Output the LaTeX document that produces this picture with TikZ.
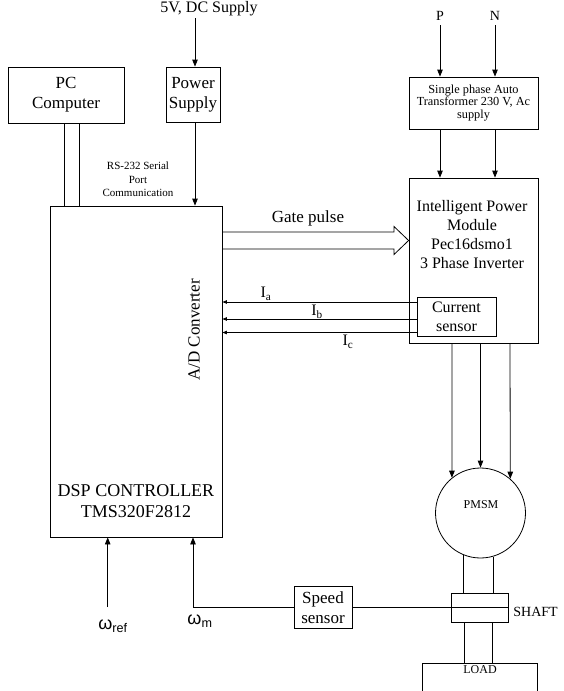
\documentclass[tikz,border=0pt]{standalone}
\usepackage{fontspec}
\setmainfont{Liberation Serif}
\newfontfamily\arialf{Liberation Sans}
\usetikzlibrary{arrows.meta}
\begin{document}
\begin{tikzpicture}[x=1pt,y=-1pt, line width=0.8pt,
  box/.style={draw, inner sep=0pt, align=center},
  lbl/.style={inner sep=0pt, align=center},
  arr/.style={-{Triangle[length=7pt,width=5.5pt]}},
  sarr/.style={-{Triangle[length=4.5pt,width=3.5pt]}},
  fA/.style={font=\fontsize{17}{20}\selectfont},
  fB/.style={font=\fontsize{16}{19}\selectfont},
]
\useasboundingbox (0,0) rectangle (563,691);

% top supply
\node[lbl, font=\fontsize{16}{18}\selectfont, anchor=base] (sup5) at (209,12) {5V, DC Supply};
\coordinate (top5) at (195,18);

% left boxes
\node[box, fA, minimum width=116pt, minimum height=56pt] (pc) at (66,95) {PC\\Computer};
\node[box, fA, minimum width=54pt, minimum height=55pt] (ps) at (193,94.5) {Power\\Supply};
\node[box, minimum width=172pt, minimum height=331pt] (dsp) at (136,371.5) {};

\draw[arr] (top5) -- (top5 |- ps.north);
\draw[arr] (ps.south -| top5) -- (dsp.north -| top5);

\coordinate (pcl1) at (64.5,123);
\coordinate (pcl2) at (79,123);
\draw (pcl1) -- (pcl1 |- dsp.north);
\draw (pcl2) -- (pcl2 |- dsp.north);

\node[lbl, font=\fontsize{11}{13.5}\selectfont] (rs) at (138,179.5) {RS-232 Serial\\Port\\Communication};

\node[lbl, fA, rotate=90] (adc) at (194,330) {A/D Converter};
\node[lbl, font=\fontsize{18}{21}\selectfont] (dspt) at (136,501) {DSP CONTROLLER\\TMS320F2812};

% right top
\node[lbl, font=\fontsize{14}{16}\selectfont] (plab) at (440,16) {P};
\node[lbl, font=\fontsize{14}{16}\selectfont] (nlab) at (495,16) {N};
\node[box, font=\fontsize{12.3}{12.2}\selectfont, minimum width=129pt, minimum height=52pt] (tr) at (473.5,103) {Single phase Auto\\Transformer 230 V, Ac\\supply};
\coordinate (pa) at (440,25);
\coordinate (na) at (495,25);
\draw[arr] (pa) -- (pa |- tr.north);
\draw[arr] (na) -- (na |- tr.north);

\node[box, minimum width=129pt, minimum height=165pt] (ipm) at (473.5,260.5) {};
\node[lbl, fB] (ipmt) at (472,235) {Intelligent Power\\Module\\Pec16dsmo1\\3 Phase Inverter};
\draw[arr] (tr.south -| pa) -- (ipm.north -| pa);
\draw[arr] (tr.south -| na) -- (ipm.north -| na);

% gate pulse
\coordinate (g1) at (222,232);
\coordinate (g2) at (222,249);
\draw (g1) -- (394,232) -- (394,226.5) -- (ipm.west |- 0,240.5) -- (394,254.5) -- (394,249) -- (g2);
\node[lbl, fA] (gp) at (308,218) {Gate pulse};

% current sensor
\node[box, fB, minimum width=79pt, minimum height=39pt, fill=white] (cs) at (456.5,316.5) {Current\\sensor};
\coordinate (ia) at (417,302);
\coordinate (ib) at (417,319);
\coordinate (ic) at (417,332.5);
\draw[sarr] (ia) -- (ia -| dsp.east);
\draw[sarr] (ib) -- (ib -| dsp.east);
\draw[sarr] (ic) -- (ic -| dsp.east);
\node[lbl, fB] (ial) at (266,294) {I\textsubscript{a}};
\node[lbl, fB] (ibl) at (317,312) {I\textsubscript{b}};
\node[lbl, fB] (icl) at (348,342) {I\textsubscript{c}};

% motor
\node[draw, circle, minimum size=90pt, inner sep=0pt] (m) at (480.5,513) {};
\node[lbl, font=\fontsize{12}{14}\selectfont] (pmsm) at (481,505) {PMSM};
\coordinate (m1) at (452,343);
\coordinate (m2) at (480.5,343);
\coordinate (m3) at (510,343);
\draw[arr] (m1) -- (m.129.3);
\draw[arr] (m2) -- (m.north);
\draw[arr] (m3) -- (m.49);

% shaft
\node[box, minimum width=57pt, minimum height=29pt] (sh) at (479.5,607.5) {};
\draw (m.248.5) -- (m.248.5 |- sh.north);
\draw (m.286.1) -- (m.286.1 |- sh.north);
\node[lbl, font=\fontsize{14}{16}\selectfont, anchor=west] (shl) at (513,612) {SHAFT};

\node[box, minimum width=115pt, minimum height=54pt] (load) at (480.2,690) {};
\node[lbl, font=\fontsize{12}{14}\selectfont] (loadl) at (480,670) {LOAD};
\coordinate (l1) at (464,622);
\coordinate (l2) at (492,622);
\draw (l1) -- (l1 |- load.north);
\draw (l2) -- (l2 |- load.north);

% speed sensor
\node[box, fA, minimum width=58pt, minimum height=42pt] (ss) at (323,607.5) {Speed\\sensor};
\draw (ss.east) -- (sh.east);
\coordinate (wm) at (193,607.5);
\draw[arr] (ss.west) -- (wm) -- (wm |- dsp.south);
\coordinate (wr) at (107.7,607);
\draw[arr] (wr) -- (wr |- dsp.south);

\node[lbl, font=\fontsize{18}{20}\selectfont\arialf] (wrl) at (113,626) {ω\textsubscript{ref}};
\node[lbl, font=\fontsize{18}{20}\selectfont\arialf] (wml) at (200,621) {ω\textsubscript{m}};
\end{tikzpicture}
\end{document}
